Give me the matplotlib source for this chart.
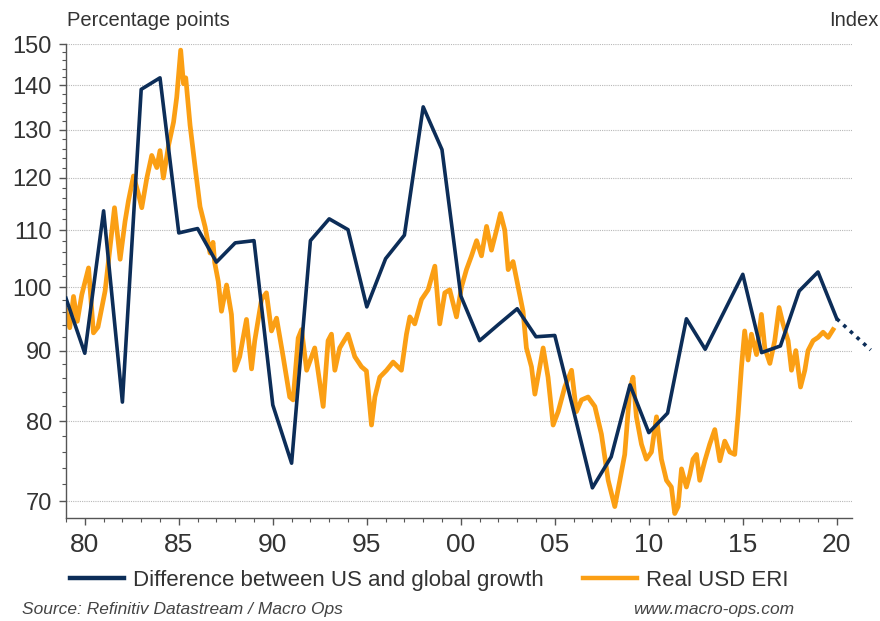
import matplotlib
matplotlib.use("Agg")
import matplotlib.pyplot as plt
from matplotlib.ticker import FixedLocator, MultipleLocator, NullFormatter, FixedFormatter

# annual series: difference between US and global growth
gap_years = list(range(1979, 2021))
gap_values = [98.2, 89.6, 113.6, 82.6, 139.1, 141.8, 109.5, 110.3, 104.3, 107.7,
              108.1, 82.2, 74.6, 108.1, 112.1, 110.1, 96.8, 104.9, 109.1, 135.1,
              125.8, 98.6, 91.5, 94.0, 96.5, 92.1, 92.3, 81.4, 71.6, 75.4,
              85.0, 78.5, 81.1, 94.9, 90.2, 96.0, 102.2, 89.7, 90.7, 99.4,
              102.6, 94.9]
# dotted projection
proj_years = [2020, 2021.8]
proj_values = [94.9, 90.1]

# real USD ERI
eri_years = [1979.0, 1979.2, 1979.4, 1979.6, 1979.84, 1980.2, 1980.46, 1980.7, 1981.08, 1981.35,
             1981.58, 1981.88, 1982.14, 1982.32, 1982.59, 1982.85, 1983.03, 1983.3, 1983.56, 1983.83,
             1984.0, 1984.18, 1984.45, 1984.72, 1984.89, 1985.1, 1985.25, 1985.37, 1985.6, 1985.87,
             1986.13, 1986.4, 1986.66, 1986.82, 1986.91, 1987.1, 1987.27, 1987.54, 1987.8, 1987.98,
             1988.24, 1988.6, 1988.87, 1989.04, 1989.4, 1989.66, 1989.93, 1990.2, 1990.55, 1990.9,
             1991.08, 1991.35, 1991.53, 1991.8, 1992.23, 1992.68, 1992.94, 1993.12, 1993.3, 1993.56,
             1994.0, 1994.36, 1994.72, 1994.98, 1995.25, 1995.43, 1995.69, 1996.05, 1996.4, 1996.84,
             1997.11, 1997.29, 1997.55, 1997.91, 1998.26, 1998.62, 1998.88, 1999.15, 1999.41, 1999.77,
             2000.04, 2000.3, 2000.57, 2000.84, 2001.1, 2001.37, 2001.63, 2001.9, 2002.11, 2002.34,
             2002.52, 2002.78, 2003.05, 2003.31, 2003.49, 2003.76, 2003.94, 2004.2, 2004.38, 2004.64,
             2004.91, 2005.18, 2005.53, 2005.89, 2006.15, 2006.42, 2006.77, 2007.13, 2007.48, 2007.84,
             2008.19, 2008.46, 2008.72, 2008.99, 2009.16, 2009.34, 2009.61, 2009.87, 2010.14, 2010.41,
             2010.67, 2010.94, 2011.2, 2011.38, 2011.56, 2011.74, 2012.0, 2012.18, 2012.35, 2012.54,
             2012.71, 2012.98, 2013.24, 2013.51, 2013.78, 2014.04, 2014.31, 2014.57, 2014.75, 2014.93,
             2015.1, 2015.28, 2015.46, 2015.73, 2015.99, 2016.17, 2016.44, 2016.7, 2016.93, 2017.14,
             2017.41, 2017.59, 2017.82, 2018.07, 2018.3, 2018.47, 2018.74, 2019.0, 2019.27, 2019.54,
             2019.8]
eri_values = [96.2, 93.5, 98.5, 94.5, 98.8, 103.3, 92.7, 93.6, 99.4, 107.2,
              114.2, 104.8, 111.6, 115.5, 120.4, 116.9, 114.2, 120.0, 124.6, 122.1,
              125.6, 120.0, 126.6, 131.7, 137.3, 148.5, 140.4, 141.8, 131.0, 122.1,
              114.4, 110.6, 105.9, 107.8, 104.2, 101.0, 96.1, 100.4, 95.6, 87.1,
              89.1, 94.8, 87.3, 91.5, 98.0, 99.1, 93.0, 95.0, 89.1, 83.3,
              82.9, 91.9, 93.2, 87.1, 90.4, 82.0, 91.5, 92.5, 87.1, 90.4,
              92.5, 89.1, 87.6, 87.0, 79.5, 83.3, 86.1, 87.1, 88.3, 87.1,
              92.5, 95.2, 94.1, 98.0, 99.6, 103.6, 94.1, 99.1, 99.6, 95.2,
              100.1, 103.0, 105.4, 108.1, 105.4, 110.7, 106.4, 110.0, 113.1, 110.0,
              103.0, 104.4, 100.1, 96.1, 90.4, 87.6, 83.7, 87.6, 90.4, 86.1,
              79.5, 81.3, 84.7, 87.1, 81.3, 82.9, 83.3, 82.0, 78.3, 72.5,
              69.4, 72.5, 75.7, 84.3, 86.1, 80.6, 77.0, 75.1, 76.0, 80.6,
              75.1, 72.5, 71.7, 68.6, 69.4, 73.9, 71.7, 73.2, 75.1, 75.7,
              72.5, 74.9, 77.0, 78.9, 74.9, 77.4, 76.0, 75.7, 80.9, 87.6,
              93.0, 88.6, 92.5, 89.4, 95.6, 90.4, 88.1, 91.5, 96.7, 94.1,
              91.5, 87.1, 90.0, 84.7, 87.1, 90.0, 91.5, 92.0, 92.8, 92.0,
              93.2]

y_ticks = [70, 80, 90, 100, 110, 120, 130, 140, 150]
x_ticks = [1980, 1985, 1990, 1995, 2000, 2005, 2010, 2015, 2020]
x_labels = ["80", "85", "90", "95", "00", "05", "10", "15", "20"]

navy = "#0c2d58"
orange = "#fb9f14"
txt = "#333333"

plt.rcParams["font.family"] = ["Liberation Sans", "DejaVu Sans"]

fig = plt.figure(figsize=(8.8, 6.21), dpi=100)
ax = fig.add_axes([0.075, 0.166, 0.893, 0.763])

ax.plot(eri_years, eri_values, color=orange, lw=3.4, label="Real USD ERI",
        solid_joinstyle="round", zorder=2)
ax.plot(gap_years, gap_values, color=navy, lw=2.6,
        label="Difference between US and global growth", zorder=3)
ax.plot(proj_years, proj_values, color=navy, lw=2.6, linestyle=(0, (1, 1.5)),
        clip_on=False, zorder=3)

ax.set_yscale("log")
ax.set_ylim(68.1, 150)
ax.set_xlim(1979.0, 2020.8)

ax.yaxis.set_major_locator(FixedLocator(y_ticks))
ax.yaxis.set_major_formatter(FixedFormatter([str(v) for v in y_ticks]))
ax.yaxis.set_minor_locator(MultipleLocator(2))
ax.yaxis.set_minor_formatter(NullFormatter())
ax.set_xticks(x_ticks)
ax.set_xticklabels(x_labels)
ax.xaxis.set_minor_locator(MultipleLocator(1))

ax.grid(axis="y", which="major", color="#b8b8b8", linestyle=(0, (1, 1)), lw=0.8)
ax.set_axisbelow(True)

for s in ["top", "right"]:
    ax.spines[s].set_visible(False)
for s in ["left", "bottom"]:
    ax.spines[s].set_color("#555555")
    ax.spines[s].set_linewidth(1.0)

ax.tick_params(axis="y", which="major", length=5, width=1, color="#555555",
               labelsize=17, labelcolor=txt, pad=5)
ax.tick_params(axis="y", which="minor", length=3, width=0.8, color="#555555")
ax.tick_params(axis="x", which="major", length=5, width=1, color="#555555",
               labelsize=19, labelcolor=txt, pad=6)
ax.tick_params(axis="x", which="minor", length=3, width=0.8, color="#555555")

fig.text(0.076, 0.958, "Percentage points", fontsize=14.5, color=txt)
fig.text(0.998, 0.958, "Index", fontsize=14.5, color=txt, ha="right")

handles, labels = ax.get_legend_handles_labels()
leg = fig.legend(handles[::-1], labels[::-1], loc="center left", bbox_to_anchor=(0.08, 0.066),
                 ncol=2, frameon=False, fontsize=16, handlelength=2.4, handletextpad=0.4,
                 columnspacing=1.8, borderpad=0, borderaxespad=0)
for t in leg.get_texts():
    t.set_color(txt)
for h in leg.get_lines():
    h.set_linewidth(3.2)

fig.text(0.025, 0.012, "Source: Refinitiv Datastream / Macro Ops", fontsize=12.5,
         style="italic", color="#444444")
fig.text(0.903, 0.012, "www.macro-ops.com", fontsize=12.5, style="italic",
         color="#444444", ha="right")

fig.savefig("out.png", dpi=100)
